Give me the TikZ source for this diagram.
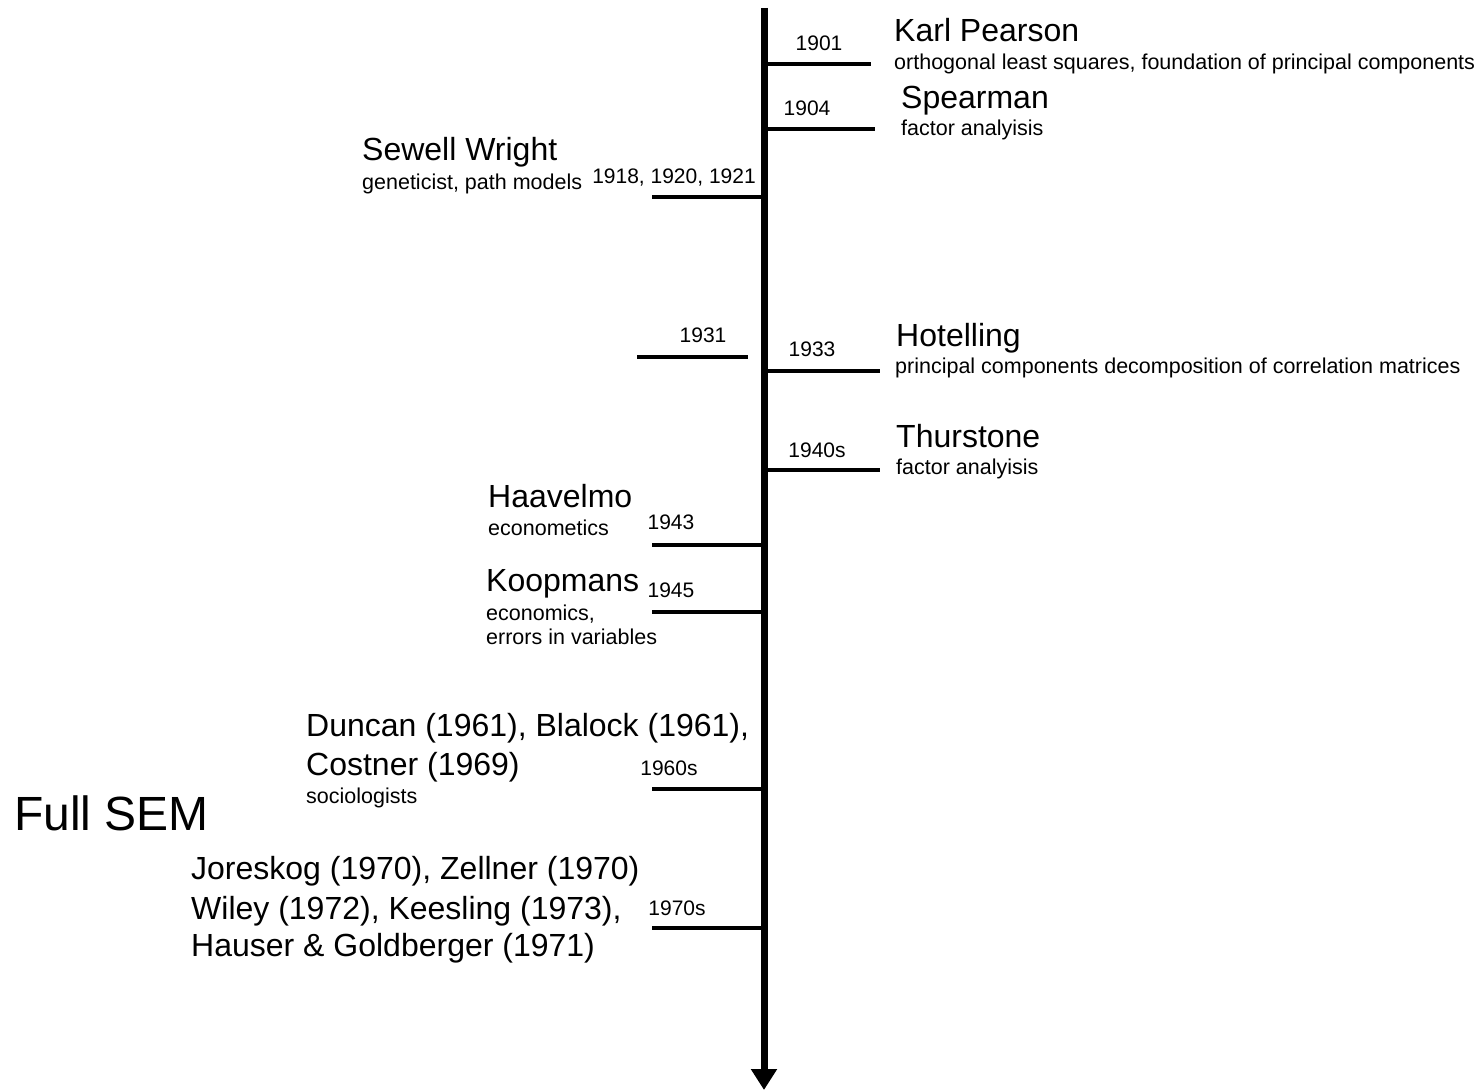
\documentclass[tikz,border=0pt]{standalone}
\usepackage{fontspec}
\setmainfont{Liberation Sans}
\usetikzlibrary{arrows.meta}
\tikzset{
  big/.style={inner sep=0pt, anchor=base west, font=\fontsize{32}{38}\selectfont},
  small/.style={inner sep=0pt, anchor=base west, font=\fontsize{21.5}{25}\selectfont},
  year/.style={inner sep=0pt, anchor=base, font=\fontsize{21}{24}\selectfont},
  huge/.style={inner sep=0pt, anchor=base west, font=\fontsize{48}{54}\selectfont},
  tick/.style={line width=3.5pt},
  axis/.style={line width=7pt, -{Triangle[length=21pt,width=25pt]}}
}
\begin{document}
\begin{tikzpicture}[x=1pt,y=-1pt]
\useasboundingbox (0,0) rectangle (1484,1091);
% axis
\coordinate (top) at (764,8);
\coordinate (bottom) at (764,1090);
\draw[axis] (top) -- (bottom);
% ticks
\draw[tick] (764,64) -- (871,64);
\draw[tick] (764,129) -- (875,129);
\draw[tick] (652,197) -- (764,197);
\draw[tick] (637,357) -- (748,357);
\draw[tick] (768,371) -- (880,371);
\draw[tick] (768,470) -- (880,470);
\draw[tick] (652,545) -- (764,545);
\draw[tick] (652,612) -- (764,612);
\draw[tick] (652,789) -- (764,789);
\draw[tick] (652,928) -- (764,928);
% years
\node[year] (y1901) at (819,50.5) {1901};
\node[year] (y1904) at (807,115.5) {1904};
\node[year] (y1918) at (674,184) {1918, 1920, 1921};
\node[year] (y1931) at (703,342.5) {1931};
\node[year] (y1933) at (812,356.5) {1933};
\node[year] (y1940) at (817,457.5) {1940s};
\node[year] (y1943) at (671,529.5) {1943};
\node[year] (y1945) at (671,597.5) {1945};
\node[year] (y1960) at (669,775.5) {1960s};
\node[year] (y1970) at (677,915.5) {1970s};
% right side
\node[big] (pearson) at (894,41.5) {Karl Pearson};
\node[small] (pearsonsub) at (894,69.5) {orthogonal least squares, foundation of principal components};
\node[big] (spearman) at (901,108.5) {Spearman};
\node[small] (spearmansub) at (901,135.5) {factor analyisis};
\node[big] (hotelling) at (896,346.5) {Hotelling};
\node[small] (hotellingsub) at (895,373.5) {principal components decomposition of correlation matrices};
\node[big] (thurstone) at (896,447.5) {Thurstone};
\node[small] (thurstonesub) at (896,474.5) {factor analyisis};
% left side
\node[big] (wright) at (362,160.5) {Sewell Wright};
\node[small] (wrightsub) at (362,189.5) {geneticist, path models};
\node[big] (haavelmo) at (488,507.5) {Haavelmo};
\node[small] (haavelmosub) at (488,535.5) {econometics};
\node[big] (koopmans) at (486,591.5) {Koopmans};
\node[small] (koopmanssub1) at (486,620.5) {economics,};
\node[small] (koopmanssub2) at (486,644.5) {errors in variables};
\node[big] (duncan1) at (306,736.5) {Duncan (1961), Blalock (1961),};
\node[big] (duncan2) at (306,775.5) {Costner (1969)};
\node[small] (duncansub) at (306,803.5) {sociologists};
\node[huge] (fullsem) at (14,830) {Full SEM};
\node[big] (jor1) at (191,879.5) {Joreskog (1970), Zellner (1970)};
\node[big] (jor2) at (191,919.5) {Wiley (1972), Keesling (1973),};
\node[big] (jor3) at (191,956.5) {Hauser \& Goldberger (1971)};
\end{tikzpicture}
\end{document}
